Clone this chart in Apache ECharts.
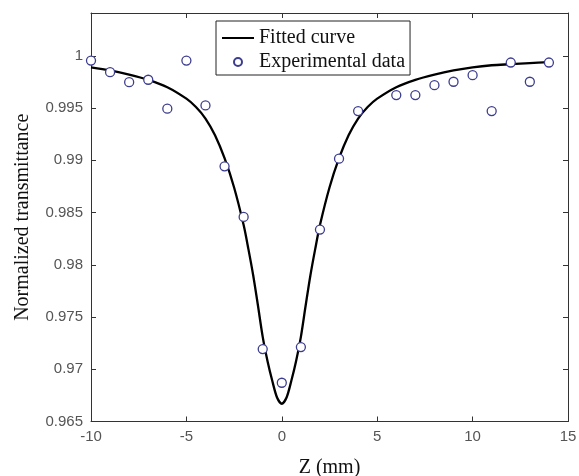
<!DOCTYPE html>
<html>
<head>
<meta charset="utf-8">
<script src="https://cdn.jsdelivr.net/npm/echarts@6/dist/echarts.min.js"></script>
<style>
html,body{margin:0;padding:0;background:#fff;}
#chart{width:579px;height:476px;}
</style>
</head>
<body>
<div id="chart"></div>
<script>
// Experimental data (z in mm, normalized transmittance)
const expZ = [-10, -9, -8, -7, -6, -5, -4, -3, -2, -1, 0, 1, 2, 3, 4, 6, 7, 8, 9, 10, 11, 12, 13, 14];
const expT = [0.99955, 0.99844, 0.99748, 0.99771, 0.99494, 0.99955, 0.99525, 0.98942, 0.98458, 0.97193, 0.96871, 0.97212, 0.98337, 0.99016, 0.99471, 0.99624, 0.99624, 0.99719, 0.99752, 0.99815, 0.99471, 0.99936, 0.99752, 0.99936];

// Fitted curve
const fitZ = [-10, -9, -8, -7, -6, -5, -4.5, -4, -3.5, -3, -2.5, -2, -1.75, -1.5, -1.25, -1, -0.75, -0.5, -0.25, 0,
              0.25, 0.5, 0.75, 1, 1.25, 1.5, 1.75, 2, 2.5, 3, 3.5, 4, 4.5, 5, 6, 7, 8, 9, 10, 11, 12, 13, 14];
const fitT = [0.9989, 0.9986, 0.9982, 0.9977, 0.9970, 0.9959, 0.9951, 0.9940, 0.9924, 0.9902, 0.9874, 0.9838, 0.9815, 0.9790, 0.9761, 0.9731, 0.9708, 0.9689, 0.9673, 0.9667,
              0.9673, 0.9689, 0.9708, 0.9731, 0.9761, 0.9790, 0.9815, 0.9838, 0.9874, 0.9902, 0.9924, 0.9940, 0.9951, 0.9959, 0.9970, 0.9977, 0.9982, 0.9986, 0.9989, 0.9991, 0.9992, 0.9993, 0.9994];

const xTicks = [-10, -5, 0, 5, 10, 15];
const yTicks = [0.965, 0.97, 0.975, 0.98, 0.985, 0.99, 0.995, 1];

const xName = 'Z (mm)';
const yName = 'Normalized transmittance';
const seriesNames = ['Fitted curve', 'Experimental data'];

const chart = echarts.init(document.getElementById('chart'), null, {renderer: 'canvas'});

const axisCol = '#333';
const tickFont = {fontFamily: 'Liberation Sans', fontSize: 15, color: '#555'};
const serif = 'Liberation Serif';

const baseX = {
  type: 'value', min: -10, max: 15, interval: 5,
  axisLine: {show: true, onZero: false, lineStyle: {color: axisCol, width: 1}},
  axisTick: {show: true, inside: true, length: 5, lineStyle: {color: axisCol}},
  splitLine: {show: false}
};
const baseY = {
  type: 'value', min: 0.965, max: 1.0041, interval: 0.005,
  axisLine: {show: true, onZero: false, lineStyle: {color: axisCol, width: 1}},
  axisTick: {show: true, inside: true, length: 5, lineStyle: {color: axisCol}},
  splitLine: {show: false}
};

chart.setOption({
  animation: false,
  backgroundColor: '#fff',
  grid: {left: 91, top: 13, width: 477, height: 408.5, containLabel: false, outerBoundsMode: 'none'},
  legend: {
    orient: 'vertical',
    left: 216, top: 21,
    padding: [7, 5, 3, 5],
    itemGap: 4,
    itemWidth: 32,
    itemHeight: 8,
    borderColor: '#222', borderWidth: 1,
    backgroundColor: '#fff',
    textStyle: {fontFamily: serif, fontSize: 20, color: '#111', lineHeight: 20},
    data: [
      {name: seriesNames[0], itemStyle: {opacity: 0}},
      {name: seriesNames[1], icon: 'circle'}
    ]
  },
  xAxis: [
    Object.assign({}, baseX, {
      position: 'bottom',
      axisLabel: Object.assign({show: true, margin: 8}, tickFont),
      name: xName, nameLocation: 'middle', nameGap: 36,
      nameTextStyle: {fontFamily: serif, fontSize: 20, color: '#111'}
    }),
    Object.assign({}, baseX, {position: 'top', axisLabel: {show: false}})
  ],
  yAxis: [
    Object.assign({}, baseY, {
      position: 'left',
      axisLabel: Object.assign({show: true, margin: 8, showMaxLabel: false,
        formatter: v => String(Math.round(v * 10000) / 10000)}, tickFont),
      name: yName, nameLocation: 'middle', nameGap: 58, nameRotate: 90,
      nameTextStyle: {fontFamily: serif, fontSize: 20, color: '#111'}
    }),
    Object.assign({}, baseY, {position: 'right', axisLabel: {show: false}})
  ],
  series: [
    {
      name: seriesNames[0], type: 'line',
      data: fitZ.map((z, i) => [z, fitT[i]]),
      symbol: 'none', smooth: 0.3,
      lineStyle: {color: '#000', width: 2.3},
      itemStyle: {color: '#000'},
      z: 2
    },
    {
      name: seriesNames[1], type: 'scatter',
      data: expZ.map((z, i) => [z, expT[i]]),
      symbol: 'circle', symbolSize: 9,
      itemStyle: {color: '#fff', borderColor: '#3d3d8f', borderWidth: 1.3, opacity: 1},
      z: 3
    }
  ]
});
</script>
</body>
</html>
